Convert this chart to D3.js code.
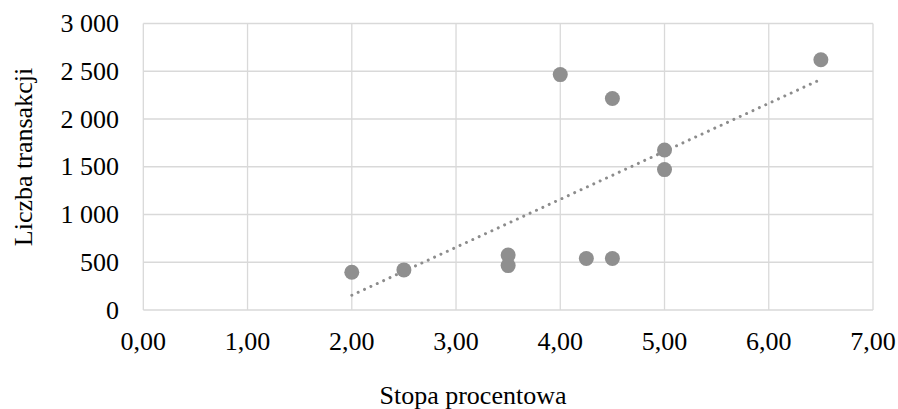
<!DOCTYPE html>
<html><head><meta charset="utf-8">
<script src="https://cdn.jsdelivr.net/npm/d3@7"></script>
<style>body{margin:0;background:#fff}svg{display:block}text{font-family:"Liberation Serif","Times New Roman",serif;fill:#000}</style>
</head><body>
<svg id="c" width="898" height="409"></svg>
<script>
const rates = [2.0, 2.5, 3.5, 3.5, 4.25, 4.5, 4.0, 4.5, 5.0, 5.0, 6.5];
const transactions = [395, 420, 575, 465, 540, 540, 2465, 2215, 1675, 1470, 2620];
const xTicks = [0,1,2,3,4,5,6,7];
const yTicks = [0,500,1000,1500,2000,2500,3000];
const xTitle = "Stopa procentowa";
const yTitle = "Liczba transakcji";

const svg = d3.select("#c");
const L = 143.3, R = 873, T = 23.5, B = 310;
const x = d3.scaleLinear().domain([0,7]).range([L,R]);
const y = d3.scaleLinear().domain([0,3000]).range([B,T]);
const grid = "#d9d9d9";
const fmtX = d => d3.format(".2f")(d).replace(".", ",");
const fmtY = d => d3.format(",")(d).replace(/,/g, " ");

// vertical gridlines
svg.append("g").selectAll("line").data(xTicks).join("line")
  .attr("x1", d=>x(d)).attr("x2", d=>x(d)).attr("y1", T).attr("y2", B)
  .attr("stroke", grid).attr("stroke-width", 1.3);
// horizontal gridlines
svg.append("g").selectAll("line").data(yTicks).join("line")
  .attr("x1", L).attr("x2", R).attr("y1", d=>y(d)).attr("y2", d=>y(d))
  .attr("stroke", grid).attr("stroke-width", 1.3);

// tick labels
svg.append("g").selectAll("text").data(yTicks).join("text")
  .attr("x", 119).attr("y", d=>y(d)+8.6).attr("text-anchor","end")
  .attr("font-size", 26).text(fmtY);
svg.append("g").selectAll("text").data(xTicks).join("text")
  .attr("x", d=>x(d)).attr("y", 350).attr("text-anchor","middle")
  .attr("font-size", 26).text(fmtX);

// trendline (least squares)
const n = rates.length;
const mx = d3.mean(rates), my = d3.mean(transactions);
let sxy = 0, sxx = 0;
for (let i=0;i<n;i++){ sxy += (rates[i]-mx)*(transactions[i]-my); sxx += (rates[i]-mx)**2; }
const slope = sxy/sxx, icpt = my - slope*mx;
const x0 = d3.min(rates), x1 = d3.max(rates);
svg.append("line")
  .attr("x1", x(x0)).attr("y1", y(icpt+slope*x0))
  .attr("x2", x(x1)).attr("y2", y(icpt+slope*x1))
  .attr("stroke", "#8c8c8c").attr("stroke-width", 3)
  .attr("stroke-linecap","round").attr("stroke-dasharray","0.01 7");

// points
svg.append("g").selectAll("circle").data(rates.map((r,i)=>[r,transactions[i]])).join("circle")
  .attr("cx", d=>x(d[0])).attr("cy", d=>y(d[1])).attr("r", 7.5)
  .attr("fill", "#8f8f8f");

// axis titles
svg.append("text").attr("x", 473).attr("y", 404).attr("text-anchor","middle")
  .attr("font-size", 26).text(xTitle);
svg.append("text").attr("transform","translate(32,157) rotate(-90)").attr("text-anchor","middle")
  .attr("font-size", 26).text(yTitle);
</script>
</body></html>
